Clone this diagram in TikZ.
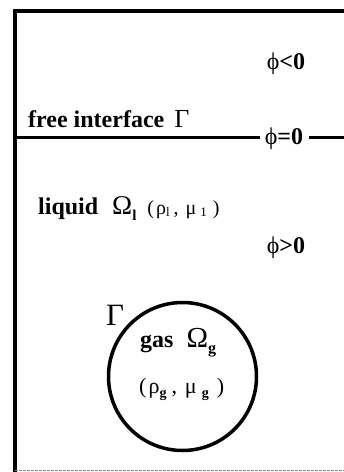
\documentclass[tikz,border=0pt]{standalone}
\usepackage{fontspec}
\usepackage{graphicx}
\setmainfont{Liberation Serif}
\newcommand\lowsub[2]{\raisebox{-#1}{#2}}
\begin{document}
\begin{tikzpicture}[x=1pt,y=-1pt,
  lbl/.style={inner sep=0pt, font=\fontsize{24}{26}\selectfont\bfseries},
  plain/.style={inner sep=0pt, font=\fontsize{24}{26}\selectfont},
  frame/.style={line width=4pt},
  iface/.style={line width=3.5pt}]
\useasboundingbox (0,0) rectangle (344,472);
\coordinate (bl) at (15,472);
\coordinate (tl) at (15,10.5);
\coordinate (tr) at (344,10.5);
\coordinate (br) at (344,470.5);
\coordinate (bl2) at (15,470.5);
\draw[frame] (bl) -- (tl) -- (tr);
\draw[line width=1.5pt, black!45, dash pattern=on 3pt off 1pt] (bl2) -- (br);
\node[lbl, anchor=base] (phineg) at (286,69) {{\mdseries ϕ}<0};
\node[lbl, anchor=base west] (free) at (28,127) {free interface\hspace{10pt}{\mdseries\fontsize{26}{26}\selectfont Γ}};
\node[lbl, anchor=base] (phi0) at (284,144) {{\mdseries ϕ}=0};
\coordinate (il) at (15,137.5);
\coordinate (ir) at (344,137.5);
\draw[iface] (il) -- ([xshift=-5pt]phi0.west |- il);
\draw[iface] ([xshift=6pt]phi0.east |- ir) -- (ir);
\node[lbl, anchor=base west] (liquid) at (38,214) {liquid\hspace{14pt}{\mdseries\fontsize{27}{27}\selectfont Ω}\lowsub{6pt}{\fontsize{15}{15}\selectfont l}\hspace{11pt}{\mdseries\fontsize{20}{22}\selectfont(\hspace{2pt}ρ\lowsub{2pt}{\fontsize{13}{13}\selectfont l}\hspace{4pt},\hspace{7pt}μ\hspace{4pt}\lowsub{2pt}{\fontsize{13}{13}\selectfont 1}\hspace{6pt})}};
\node[lbl, anchor=base] (phipos) at (286,253) {{\mdseries ϕ}>0};
\node[draw, circle, line width=3.5pt, minimum size=148pt, inner sep=0pt] (bubble) at (182.5,376.5) {};
\node[plain, anchor=base west, font=\fontsize{31}{31}\selectfont] (gam) at (106,325) {Γ};
\node[lbl, anchor=base west] (gas) at (140,347) {gas\hspace{13pt}{\mdseries\fontsize{29}{29}\selectfont Ω}\lowsub{6pt}{\fontsize{16}{16}\selectfont g}};
\node[plain, anchor=base west, font=\fontsize{22}{24}\selectfont] (gasprop) at (139,393) {(\hspace{2pt}ρ\lowsub{4pt}{\fontsize{14}{14}\selectfont\bfseries g}\hspace{5pt},\hspace{8pt}μ\hspace{5pt}\lowsub{4pt}{\fontsize{14}{14}\selectfont\bfseries g}\hspace{8pt})};
\end{tikzpicture}
\end{document}
